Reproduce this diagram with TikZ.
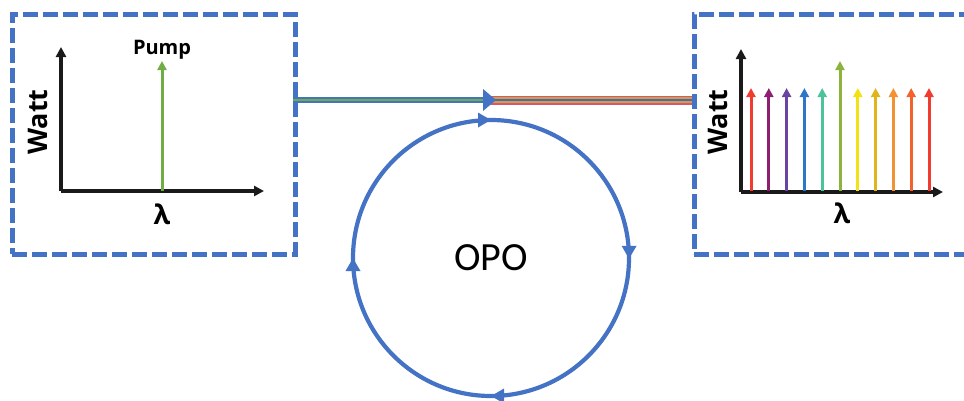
\documentclass[tikz,border=0pt]{standalone}
\usepackage{fontspec}
\setmainfont{Open Sans}
\newfontfamily\opofont{Carlito}
\usetikzlibrary{arrows.meta,decorations.markings}

\definecolor{frameblue}{HTML}{4472C4}
\definecolor{pumpgreen}{HTML}{70AD47}
\definecolor{axisblack}{HTML}{1A1A1A}
\definecolor{sA}{HTML}{F23B2F}
\definecolor{sB}{HTML}{8E1F6E}
\definecolor{sC}{HTML}{6A43A3}
\definecolor{sD}{HTML}{2E76C8}
\definecolor{sE}{HTML}{4DC39C}
\definecolor{sF}{HTML}{8DB33E}
\definecolor{sG}{HTML}{F2E213}
\definecolor{sH}{HTML}{E0B41C}
\definecolor{sI}{HTML}{F39232}
\definecolor{sJ}{HTML}{F2622C}
\definecolor{sK}{HTML}{F23B2F}
\definecolor{combred}{HTML}{D9566E}
\definecolor{combgold}{HTML}{C8A24A}
\definecolor{combblue}{HTML}{5566B0}

\tikzset{
  panel/.style={draw=frameblue, line width=4.5pt, dash pattern=on 15pt off 5pt},
  axis/.style={draw=axisblack, line width=3.2pt, -{Triangle[length=10pt,width=10pt]}},
  line/.style={line width=3pt, -{Triangle[length=9pt,width=9pt]}},
  label/.style={inner sep=0pt, font=\bfseries\fontsize{27}{27}\selectfont},
  ring/.style={draw=frameblue, line width=4.2pt},
  ringtip/.tip={Triangle[length=13pt,width=14pt]}
}

\begin{document}
\begin{tikzpicture}[x=1pt, y=-1pt]
  \useasboundingbox (0,0) rectangle (964,400);
  \clip (0,0) rectangle (964,400);

  % input and output spectrum panels
  \node[panel, minimum width=283pt, minimum height=240pt, inner sep=0pt, anchor=north west] (inbox) at (10,12) {};
  \node[panel, minimum width=300pt, minimum height=240pt, inner sep=0pt, anchor=north west] (outbox) at (692,12) {};

  % input spectrum: axes and the pump line
  \coordinate (io) at (61,191);
  \coordinate (iy) at (61,47);
  \coordinate (ix) at (264,191);
  \draw[axis] (io) -- (iy);
  \draw[axis] (io) -- (ix);
  \coordinate (pb) at (162,191);
  \coordinate (pt) at (162,61);
  \draw[line, draw=pumpgreen, pumpgreen] (pb) -- (pt);
  \node[inner sep=0pt, font=\bfseries\fontsize{20}{20}\selectfont, anchor=base] (pumplbl) at (162,54) {Pump};
  \node[label, rotate=90] (iwatt) at (38,122) {Watt};
  \node[label] (ilam) at (162,214) {λ};

  % output spectrum: axes and the comb lines
  \coordinate (oo) at (741,192);
  \coordinate (oy) at (741,49);
  \coordinate (ox) at (943,192);
  \draw[axis] (oo) -- (oy);
  \draw[axis] (oo) -- (ox);
  \foreach \c [count=\i] in {sA,sB,sC,sD,sE,sF,sG,sH,sI,sJ,sK} {
    \pgfmathsetmacro{\xx}{751+17.8*(\i-1)}
    \pgfmathsetmacro{\yy}{\i==6 ? 61 : 88}
    \coordinate (cb\i) at (\xx,191);
    \coordinate (ct\i) at (\xx,\yy);
    \draw[line, draw=\c, \c] (cb\i) -- (ct\i);
  }
  \node[label, rotate=90] (owatt) at (718,122) {Watt};
  \node[label] (olam) at (842,213) {λ};

  % bus waveguide: pump in, comb out
  \coordinate (wgin) at (293,100);
  \coordinate (wgmid) at (486,100);
  \coordinate (wgtip) at (496,100);
  \coordinate (wgout) at (692,100);
  \draw[combred, line width=9pt] (wgmid) -- (wgout);
  \draw[combgold, line width=6pt] (wgmid) -- (wgout);
  \draw[combblue, line width=2.5pt] (wgmid) -- (wgout);
  \draw[frameblue, line width=6pt] (wgin) -- (wgmid);
  \draw[pumpgreen, line width=2pt] (wgin) -- (wgmid);
  \fill[frameblue] (483,89) -- (wgtip) -- (483,111) -- cycle;

  % ring resonator with circulation marks
  \coordinate (rc) at (491,258);
  \draw[ring, postaction={decorate}, decoration={markings,
      mark=at position 0.001 with {\arrow{ringtip}},
      mark=at position 0.25 with {\arrow{ringtip}},
      mark=at position 0.5 with {\arrow{ringtip}},
      mark=at position 0.75 with {\arrow{ringtip}}}]
    (rc) circle[radius=138];
  \node[inner sep=0pt, font=\opofont\fontsize{40}{40}\selectfont] (opo) at (rc) {OPO};
\end{tikzpicture}
\end{document}
